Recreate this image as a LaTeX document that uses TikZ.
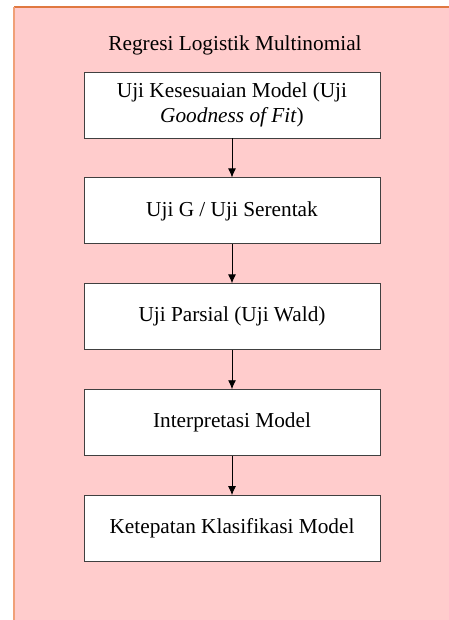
\documentclass[tikz,border=0pt]{standalone}
\usepackage{fontspec}
\setmainfont{Liberation Serif}
\usepackage{xcolor}
\usetikzlibrary{positioning, arrows.meta}

\definecolor{bgpink}{RGB}{255,204,204}
\definecolor{edgetop}{RGB}{224,120,64}
\definecolor{edgeleft}{RGB}{240,160,120}

\tikzset{
    stage/.style={draw=black!75, fill=white, line width=0.9pt,
        minimum width=296pt, minimum height=66pt, inner sep=2pt,
        align=center, font=\fontsize{21.3}{25}\selectfont},
    flow/.style={-{Latex[length=9pt,width=8pt]}, line width=0.9pt}
}

\begin{document}
\begin{tikzpicture}[x=1pt, y=-1pt]

    \useasboundingbox (0,0) rectangle (448,620);

    % background panel
    \fill[bgpink] (14,7) rectangle (460,630);
    \draw[edgetop, line width=1.5pt] (14,7) -- (460,7);
    \draw[edgeleft, line width=1.5pt] (14,7) -- (14,630);

    \node[font=\fontsize{21.3}{25}\selectfont] (title) at (235,45)
        {Regresi Logistik Multinomial};

    \node[stage] (gof) at (232,105)
        {Uji Kesesuaian Model (Uji\\ \textit{Goodness of Fit})};
    \node[stage, below=39pt of gof] (ujig) {Uji G / Uji Serentak};
    \node[stage, below=39pt of ujig] (wald) {Uji Parsial (Uji Wald)};
    \node[stage, below=39pt of wald] (interp) {Interpretasi Model};
    \node[stage, below=39pt of interp] (klas) {Ketepatan Klasifikasi Model};

    \draw[flow] (gof) -- (ujig);
    \draw[flow] (ujig) -- (wald);
    \draw[flow] (wald) -- (interp);
    \draw[flow] (interp) -- (klas);

\end{tikzpicture}
\end{document}
